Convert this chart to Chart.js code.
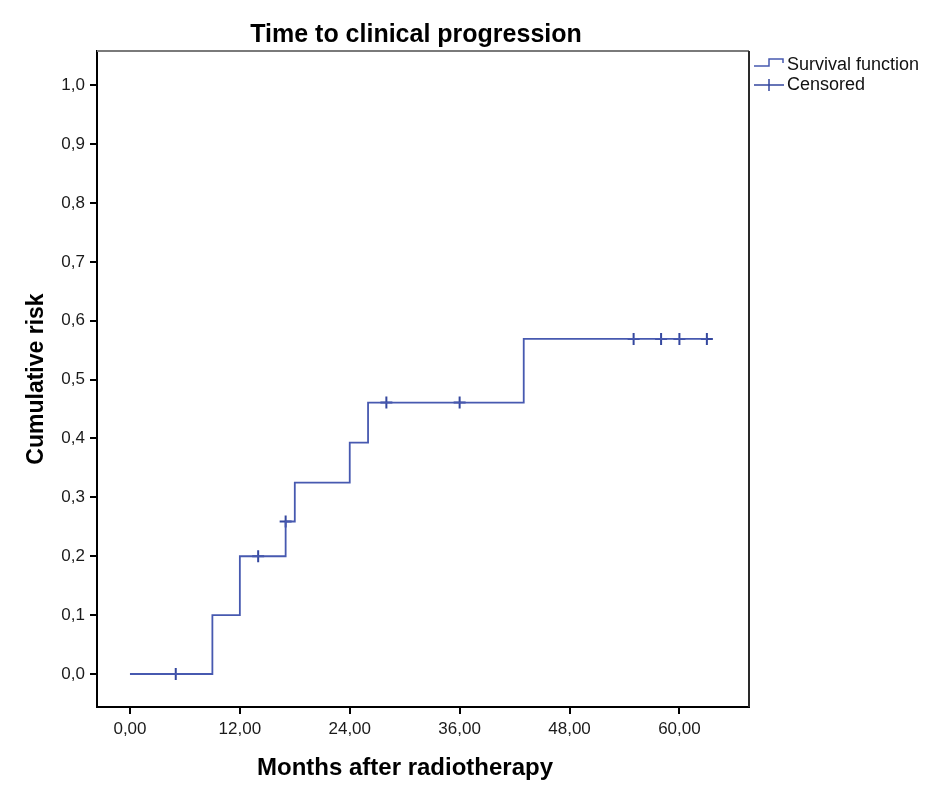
<!DOCTYPE html>
<html>
<head>
<meta charset="utf-8">
<script src="https://cdn.jsdelivr.net/npm/chart.js@4.4.1/dist/chart.umd.min.js"></script>
<style>
    html, body { margin: 0; padding: 0; background: #ffffff; }
    #wrap { width: 945px; height: 805px; }
</style>
</head>
<body>
<div id="wrap"><canvas id="km-chart"></canvas></div>
<script>
// Kaplan-Meier step points (cumulative risk)
const stepMonths = [0, 9, 12, 17, 18, 24, 26, 43, 63];
const stepRisk = [0, 0.1, 0.2, 0.259, 0.325, 0.393, 0.461, 0.569, 0.569];

// censored observations
const censoredMonths = [5, 14, 17, 28, 36, 55, 58, 60, 63];
const censoredRisk = [0, 0.2, 0.259, 0.461, 0.461, 0.569, 0.569, 0.569, 0.569];

const xTicks = [0, 12, 24, 36, 48, 60];
const yTicks = [0, 0.1, 0.2, 0.3, 0.4, 0.5, 0.6, 0.7, 0.8, 0.9, 1.0];

const chartTitle = 'Time to clinical progression';
const xTitle = 'Months after radiotherapy';
const lineColor = '#4759b0';
const markColor = '#34479e';
const fontFamily = "'Liberation Sans', Arial, sans-serif";

const toPoints = (xs, ys) => xs.map((x, i) => ({x: x, y: ys[i]}));

// title, x title, frame and legend are drawn here
const decorPlugin = {
    id: 'decorPlugin',
    afterDraw(chart) {
        const ctx = chart.ctx;
        const area = chart.chartArea;
        ctx.save();

        // top and right edges of the frame
        ctx.lineWidth = 2;
        ctx.strokeStyle = '#7a7a7a';
        ctx.beginPath();
        ctx.moveTo(area.left, area.top);
        ctx.lineTo(area.right, area.top);
        ctx.stroke();
        ctx.strokeStyle = '#2a2a2a';
        ctx.beginPath();
        ctx.moveTo(area.right, area.top);
        ctx.lineTo(area.right, area.bottom);
        ctx.stroke();

        // titles
        ctx.fillStyle = '#000000';
        ctx.font = 'bold 25px ' + fontFamily;
        ctx.textAlign = 'center';
        ctx.textBaseline = 'middle';
        ctx.fillText(chartTitle, 416, 35);

        ctx.font = 'bold 24px ' + fontFamily;
        ctx.fillText(xTitle, 405, 768);

        // legend
        const sets = chart.data.datasets;
        const lx = area.right + 5;
        ctx.font = '18px ' + fontFamily;
        ctx.textAlign = 'left';
        ctx.lineWidth = 1.5;

        let y = 65;
        ctx.strokeStyle = sets[0].borderColor;
        ctx.beginPath();
        ctx.moveTo(lx, y + 1);
        ctx.lineTo(lx + 15, y + 1);
        ctx.lineTo(lx + 15, y - 6);
        ctx.lineTo(lx + 29, y - 6);
        ctx.lineTo(lx + 29, y - 2);
        ctx.stroke();
        ctx.fillStyle = '#111111';
        ctx.fillText(sets[0].label, lx + 33, y);

        y = 85;
        ctx.strokeStyle = sets[1].borderColor;
        ctx.beginPath();
        ctx.moveTo(lx, y);
        ctx.lineTo(lx + 30, y);
        ctx.moveTo(lx + 15, y - 6);
        ctx.lineTo(lx + 15, y + 6);
        ctx.stroke();
        ctx.fillText(sets[1].label, lx + 33, y);

        ctx.restore();
    }
};

new Chart(document.getElementById('km-chart'), {
    type: 'scatter',
    data: {
        datasets: [{
            label: 'Survival function',
            data: toPoints(stepMonths, stepRisk),
            showLine: true,
            stepped: 'before',
            borderColor: lineColor,
            borderWidth: 1.8,
            pointRadius: 0,
            fill: false
        }, {
            label: 'Censored',
            data: toPoints(censoredMonths, censoredRisk),
            showLine: false,
            pointStyle: 'cross',
            pointRadius: 6,
            borderColor: markColor,
            backgroundColor: markColor,
            pointBorderWidth: 2
        }]
    },
    options: {
        responsive: true,
        maintainAspectRatio: false,
        animation: false,
        layout: {
            padding: {top: 51, right: 196, left: 0, bottom: 0}
        },
        plugins: {
            legend: {display: false},
            title: {display: false},
            tooltip: {enabled: false}
        },
        scales: {
            x: {
                type: 'linear',
                min: -3.6,
                max: 67.6,
                afterBuildTicks: scale => {
                    scale.ticks = xTicks.map(v => ({value: v}));
                },
                afterFit: scale => {
                    scale.height = 98;
                },
                border: {color: '#000000', width: 2},
                grid: {
                    drawOnChartArea: false,
                    drawTicks: true,
                    tickLength: 7,
                    color: '#000000',
                    lineWidth: 2
                },
                ticks: {
                    padding: 5,
                    color: '#1a1a1a',
                    font: {family: fontFamily, size: 17},
                    callback: v => v.toFixed(2).replace('.', ',')
                },
                title: {display: false}
            },
            y: {
                type: 'linear',
                min: -0.056,
                max: 1.058,
                afterBuildTicks: scale => {
                    scale.ticks = yTicks.map(v => ({value: v}));
                },
                afterFit: scale => {
                    scale.width = 97;
                },
                border: {color: '#000000', width: 2},
                grid: {
                    drawOnChartArea: false,
                    drawTicks: true,
                    tickLength: 7,
                    color: '#000000',
                    lineWidth: 2
                },
                ticks: {
                    padding: 5,
                    color: '#1a1a1a',
                    font: {family: fontFamily, size: 17},
                    callback: v => v.toFixed(1).replace('.', ',')
                },
                title: {
                    display: true,
                    text: 'Cumulative risk',
                    color: '#000000',
                    font: {family: fontFamily, size: 23, weight: 'bold'},
                    padding: {top: 23, bottom: 0}
                }
            }
        }
    },
    plugins: [decorPlugin]
});
</script>
</body>
</html>
